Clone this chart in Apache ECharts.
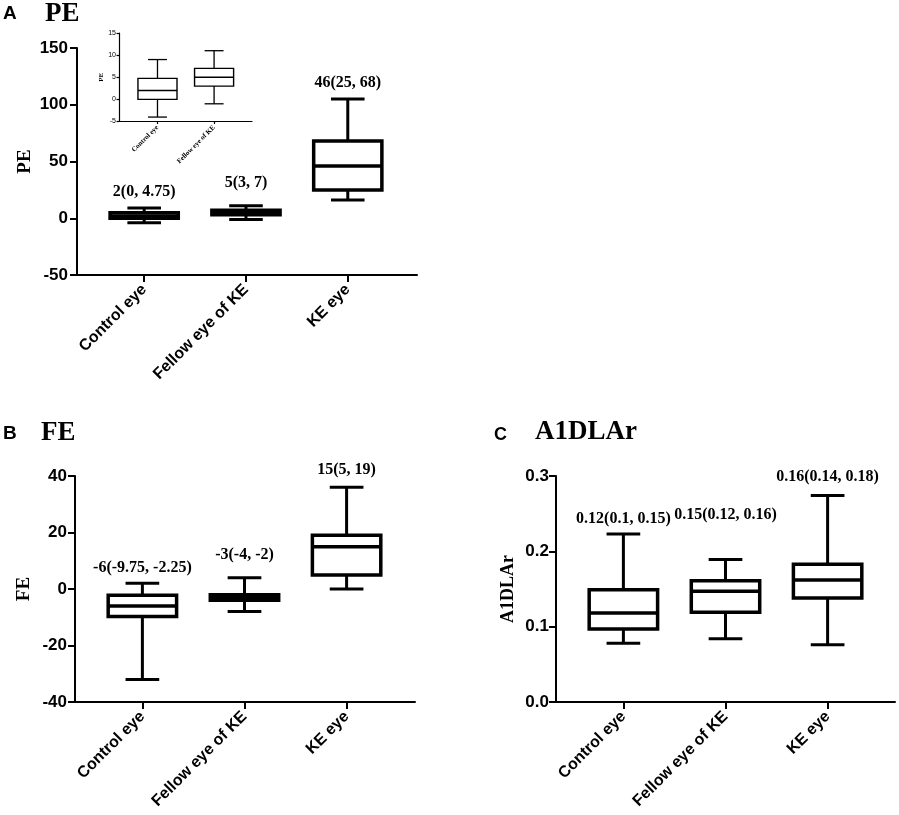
<!DOCTYPE html>
<html><head><meta charset="utf-8">
<script src="https://cdn.jsdelivr.net/npm/echarts@6/dist/echarts.min.js"></script>
<style>html,body{margin:0;padding:0;background:#fff}#c{width:899px;height:815px}</style>
</head><body><div id="c"></div>
<script>
// ---------- data ----------
const categories = ['Control eye', 'Fellow eye of KE', 'KE eye'];
const insetCategories = ['Control eye', 'Fellow eye of KE'];
// each box: [min, Q1, median, Q3, max]
const peBoxes = [[-4, 0, 2, 4.75, 9], [-1, 3, 5, 7, 11], [16, 25, 46, 68, 105]];
const peLabels = ['2(0, 4.75)', '5(3, 7)', '46(25, 68)'];
const peLabelAt = [23, 31, 119];
const peTicks = [-50, 0, 50, 100, 150];
const peInsetBoxes = [[-4, 0, 2, 4.75, 9], [-1, 3, 5, 7, 11]];
const peInsetTicks = [-5, 0, 5, 10, 15];
const feBoxes = [[-32, -9.75, -6, -2.25, 2], [-8, -4, -3, -2, 4], [0, 5, 15, 19, 36]];
const feLabels = ['-6(-9.75, -2.25)', '-3(-4, -2)', '15(5, 19)'];
const feLabelAt = [7.5, 12, 42];
const feTicks = [-40, -20, 0, 20, 40];
const a1Boxes = [[0.078, 0.097, 0.118, 0.149, 0.223], [0.084, 0.119, 0.147, 0.161, 0.189], [0.076, 0.138, 0.162, 0.183, 0.274]];
const a1Labels = ['0.12(0.1, 0.15)', '0.15(0.12, 0.16)', '0.16(0.14, 0.18)'];
const a1LabelAt = [0.243, 0.248, 0.299];
const a1Ticks = [0, 0.1, 0.2, 0.3];

// ---------- helpers ----------
const SANS = 'Liberation Sans, Arial, sans-serif';
const SERIF = 'Liberation Serif, Times New Roman, serif';

function xAx(gi, min, max, cats, lw, fs, ff, tickLen, margin) {
  const idx = cats.map((_, i) => i);
  return {
    type: 'value', gridIndex: gi, min: min, max: max,
    axisLine: { show: true, onZero: false, lineStyle: { color: '#000', width: lw } },
    axisTick: { show: true, customValues: idx, length: tickLen, lineStyle: { color: '#000', width: lw } },
    axisLabel: {
      customValues: idx, rotate: 45, margin: margin, color: '#000',
      fontFamily: ff, fontWeight: 'bold', fontSize: fs,
      formatter: v => cats[Math.round(v)] || ''
    },
    splitLine: { show: false }
  };
}
function yAx(gi, ticks, name, lw, fs, nameFs, nameGap, tickLen, margin, fmt, labelWeight) {
  return {
    type: 'value', gridIndex: gi, min: ticks[0], max: ticks[ticks.length - 1],
    interval: ticks[1] - ticks[0],
    axisLine: { show: true, onZero: false, lineStyle: { color: '#000', width: lw } },
    axisTick: { show: true, length: tickLen, lineStyle: { color: '#000', width: lw } },
    axisLabel: { color: '#000', fontFamily: SANS, fontWeight: labelWeight || 'bold', fontSize: fs, margin: margin,
      formatter: fmt || (v => String(v)) },
    splitLine: { show: false },
    name: name, nameLocation: 'middle', nameRotate: 90, nameGap: nameGap,
    nameTextStyle: { color: '#000', fontFamily: SERIF, fontWeight: 'bold', fontSize: nameFs }
  };
}
function boxSeries(k, boxes, labels, labelAt, lw, boxLw, boxW, capW, fontPx) {
  return {
    type: 'custom', xAxisIndex: k, yAxisIndex: k, clip: false,
    data: boxes.map((b, i) => [i].concat(b)),
    encode: { x: 0, y: [1, 2, 3, 4, 5] },
    renderItem: function (params, api) {
      const i = api.value(0);
      const v = [1, 2, 3, 4, 5].map(d => api.value(d));
      const y = v.map(val => api.coord([i, val])[1]);
      const cx = api.coord([i, v[2]])[0];
      const xl = api.coord([i - boxW / 2, v[2]])[0];
      const xr = api.coord([i + boxW / 2, v[2]])[0];
      const cl = api.coord([i - capW / 2, v[2]])[0];
      const cr = api.coord([i + capW / 2, v[2]])[0];
      const st = { stroke: '#000', lineWidth: lw };
      const ch = [
        { type: 'line', shape: { x1: cx, y1: y[0], x2: cx, y2: y[4] }, style: st },
        { type: 'line', shape: { x1: cl, y1: y[0], x2: cr, y2: y[0] }, style: st },
        { type: 'line', shape: { x1: cl, y1: y[4], x2: cr, y2: y[4] }, style: st },
        { type: 'rect', shape: { x: xl, y: y[3], width: xr - xl, height: y[1] - y[3] },
          style: { fill: '#fff', stroke: '#000', lineWidth: boxLw } },
        { type: 'line', shape: { x1: xl, y1: y[2], x2: xr, y2: y[2] }, style: { stroke: '#000', lineWidth: boxLw } }
      ];
      if (labels) {
        const p = api.coord([i, labelAt[params.dataIndex]]);
        ch.push({ type: 'text', x: p[0], y: p[1],
          style: { text: labels[params.dataIndex], fill: '#000',
            font: 'bold ' + fontPx + 'px ' + SERIF,
            align: 'center', verticalAlign: 'middle', textAlign: 'center', textVerticalAlign: 'middle' } });
      }
      return { type: 'group', children: ch };
    }
  };
}

// ---------- chart ----------
const chart = echarts.init(document.getElementById('c'));
const tBold = (ff, fs) => ({ color: '#000', fontFamily: ff, fontWeight: 'bold', fontSize: fs });
chart.setOption({
  animation: false,
  backgroundColor: '#fff',
  title: [
    { text: 'A', left: 3, top: 4, padding: 0, textStyle: tBold(SANS, 19) },
    { text: 'PE', left: 45, top: 1, padding: 0, textStyle: tBold(SERIF, 27) },
    { text: 'B', left: 3, top: 424, padding: 0, textStyle: tBold(SANS, 19) },
    { text: 'FE', left: 41, top: 420, padding: 0, textStyle: tBold(SERIF, 27) },
    { text: 'C', left: 494, top: 426, padding: 0, textStyle: tBold(SANS, 18) },
    { text: 'A1DLAr', left: 535, top: 419, padding: 0, textStyle: tBold(SERIF, 27) }
  ],
  grid: [
    { left: 77, top: 48, width: 340, height: 227 },
    { left: 75, top: 476, width: 340, height: 226 },
    { left: 556, top: 476, width: 339, height: 226 },
    { left: 119, top: 33, width: 133, height: 88.5 }
  ],
  xAxis: [
    xAx(0, -0.66, 2.68, categories, 2, 16, SANS, 7, 12),
    xAx(1, -0.66, 2.67, categories, 2, 16, SANS, 7, 12),
    xAx(2, -0.66, 2.66, categories, 2, 16, SANS, 7, 12),
    xAx(3, -0.68, 1.67, insetCategories, 1.2, 7, SERIF, 2.5, 5)
  ],
  yAxis: [
    yAx(0, peTicks, 'PE', 2, 17, 19, 42, 7, 9),
    yAx(1, feTicks, 'FE', 2, 17, 19, 41, 7, 8),
    yAx(2, a1Ticks, 'A1DLAr', 2, 17, 18, 39, 7, 7, v => v.toFixed(1)),
    yAx(3, peInsetTicks, 'PE', 1.2, 7, 7, 13, 2.5, 3, null, 'normal')
  ],
  series: [
    boxSeries(0, peBoxes, peLabels, peLabelAt, 3, 3.5, 0.67, 0.33, 16),
    boxSeries(1, feBoxes, feLabels, feLabelAt, 3, 3.5, 0.67, 0.33, 16),
    boxSeries(2, a1Boxes, a1Labels, a1LabelAt, 3, 3.5, 0.67, 0.33, 16),
    boxSeries(3, peInsetBoxes, null, null, 1.3, 1.4, 0.69, 0.335, 7)
  ]
});
</script></body></html>
